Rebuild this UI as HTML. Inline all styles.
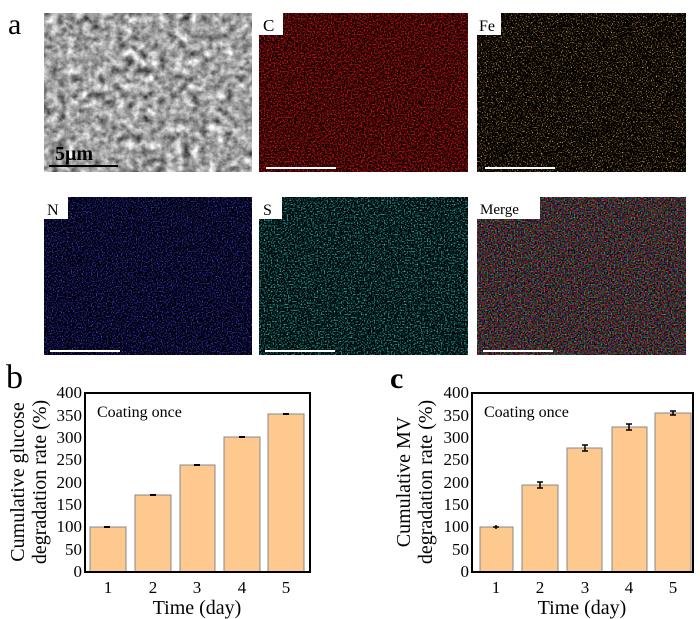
<!DOCTYPE html>
<html><head><style>body{margin:0;background:#fff}svg{display:block}text{font-family:"Liberation Serif",serif;fill:#000}</style></head><body>
<svg width="700" height="619" viewBox="0 0 700 619" xmlns="http://www.w3.org/2000/svg" font-family="Liberation Serif, serif">
<defs>
<filter id="sem" x="0" y="0" width="1" height="1" color-interpolation-filters="sRGB"><feTurbulence type="fractalNoise" baseFrequency="0.12" numOctaves="4" seed="3"/><feColorMatrix type="matrix" values="0.75 0.75 0 0 -0.12  0.75 0.75 0 0 -0.12  0.75 0.75 0 0 -0.12  0 0 0 0 1"/></filter>
<filter id="red" x="0" y="0" width="1" height="1" color-interpolation-filters="sRGB"><feTurbulence type="fractalNoise" baseFrequency="0.7" numOctaves="2" seed="5"/><feColorMatrix type="matrix" values="2.4 0 0 0 -0.95  0.2 0 0 0 -0.08  0.2 0 0 0 -0.08  0 0 0 0 1"/></filter>
<filter id="fe" x="0" y="0" width="1" height="1" color-interpolation-filters="sRGB"><feTurbulence type="fractalNoise" baseFrequency="0.8" numOctaves="1" seed="7"/><feColorMatrix type="matrix" values="3.5 0 0 0 -1.85  2.8 0 0 0 -1.5  1.2 0 0 0 -0.65  0 0 0 0 1"/></filter>
<filter id="n" x="0" y="0" width="1" height="1" color-interpolation-filters="sRGB"><feTurbulence type="fractalNoise" baseFrequency="0.8" numOctaves="1" seed="9"/><feColorMatrix type="matrix" values="1 0 0 0 -0.5  1 0 0 0 -0.5  3 0 0 0 -1.4  0 0 0 0 1"/></filter>
<filter id="s" x="0" y="0" width="1" height="1" color-interpolation-filters="sRGB"><feTurbulence type="fractalNoise" baseFrequency="0.7" numOctaves="1" seed="11"/><feColorMatrix type="matrix" values="0.6 0 0 0 -0.3  2.2 0 0 0 -1.0  2.2 0 0 0 -1.0  0 0 0 0 1"/></filter>
<filter id="m" x="0" y="0" width="1" height="1" color-interpolation-filters="sRGB"><feTurbulence type="fractalNoise" baseFrequency="0.7" numOctaves="1" seed="13"/><feColorMatrix type="matrix" values="2.6 -0.8 0 0 -0.7  -0.6 1.8 0.4 0 -0.65  0 -0.3 2.2 0 -0.8  0 0 0 0 1"/></filter>
</defs>
<text x="8" y="34" font-size="30">a</text>
<rect x="44" y="13" width="208" height="159" filter="url(#sem)"/>
<rect x="259" y="13" width="209" height="159" filter="url(#red)"/>
<rect x="477" y="13" width="209" height="159" filter="url(#fe)"/>
<rect x="44" y="197" width="208" height="158" filter="url(#n)"/>
<rect x="259" y="197" width="209" height="158" filter="url(#s)"/>
<rect x="477" y="197" width="209" height="158" filter="url(#m)"/>
<rect x="259" y="13" width="24" height="22" fill="#fff"/><text x="263" y="31" font-size="17">C</text>
<rect x="477" y="13" width="24" height="22" fill="#fff"/><text x="479" y="31" font-size="16">Fe</text>
<rect x="44" y="197" width="24" height="22" fill="#fff"/><text x="47" y="215" font-size="16">N</text>
<rect x="259" y="197" width="23" height="22" fill="#fff"/><text x="263" y="215" font-size="16">S</text>
<rect x="477" y="197" width="63" height="22" fill="#fff"/><text x="480" y="214" font-size="15">Merge</text>
<text x="55" y="160" font-size="20" font-weight="bold">5μm</text>
<line x1="49" y1="166" x2="118" y2="166" stroke="#000" stroke-width="2"/>
<g stroke="#fff" stroke-width="2"><line x1="266" y1="168" x2="336" y2="168"/><line x1="485" y1="168" x2="555" y2="168"/><line x1="50" y1="351" x2="120" y2="351"/><line x1="265" y1="351" x2="335" y2="351"/><line x1="483" y1="351" x2="553" y2="351"/></g>

<!-- b -->
<text x="6" y="388" font-size="34">b</text>
<g font-size="17" text-anchor="end">
<text x="82" y="577">0</text><text x="82" y="555">50</text><text x="82" y="532">100</text><text x="82" y="510">150</text><text x="82" y="488">200</text><text x="82" y="465">250</text><text x="82" y="443">300</text><text x="82" y="421">350</text><text x="82" y="398">400</text></g>
<g fill="#fdc98f" stroke="#888" stroke-width="1">
<rect x="90" y="527" width="36" height="45"/><rect x="135" y="495" width="36" height="77"/><rect x="180" y="465" width="35" height="107"/><rect x="224" y="437" width="36" height="135"/><rect x="268" y="414" width="36" height="158"/></g>
<g stroke="#000" stroke-width="2"><line x1="104" y1="527" x2="110" y2="527"/><line x1="150" y1="495" x2="156" y2="495"/><line x1="194" y1="465" x2="200" y2="465"/><line x1="239" y1="437" x2="245" y2="437"/><line x1="283" y1="414" x2="289" y2="414"/></g>
<rect x="85" y="393" width="225" height="179" fill="none" stroke="#000" stroke-width="2"/>
<g font-size="17" text-anchor="middle"><text x="108" y="593">1</text><text x="153" y="593">2</text><text x="197" y="593">3</text><text x="242" y="593">4</text><text x="286" y="593">5</text></g>
<text x="197" y="614" font-size="20" text-anchor="middle">Time (day)</text>
<text x="97" y="417" font-size="16">Coating once</text>
<text transform="translate(24,482) rotate(-90)" font-size="20" text-anchor="middle">Cumulative glucose</text>
<text transform="translate(46,482) rotate(-90)" font-size="20" text-anchor="middle">degradation rate (%)</text>

<!-- c -->
<text x="390" y="388" font-size="30" font-weight="bold">c</text>
<g font-size="17" text-anchor="end">
<text x="469" y="577">0</text><text x="469" y="555">50</text><text x="469" y="532">100</text><text x="469" y="510">150</text><text x="469" y="488">200</text><text x="469" y="465">250</text><text x="469" y="443">300</text><text x="469" y="421">350</text><text x="469" y="398">400</text></g>
<g fill="#fdc98f" stroke="#888" stroke-width="1">
<rect x="480" y="527" width="33" height="45"/><rect x="522" y="485" width="36" height="87"/><rect x="567" y="448" width="35" height="124"/><rect x="612" y="427" width="35" height="145"/><rect x="655" y="413" width="36" height="159"/></g>
<g stroke="#000" stroke-width="1.5"><line x1="496" y1="525" x2="496" y2="529"/><line x1="493" y1="527" x2="499" y2="527"/><path d="M537 482h6M540 482v6M537 488h6"/><path d="M582 445h6M585 445v6M582 451h6"/><path d="M626 424h6M629 424v6M626 430h6"/><path d="M670 411h6M673 411v4M670 415h6"/></g>
<rect x="472" y="393" width="221" height="179" fill="none" stroke="#000" stroke-width="2"/>
<g font-size="17" text-anchor="middle"><text x="496" y="593">1</text><text x="540" y="593">2</text><text x="585" y="593">3</text><text x="629" y="593">4</text><text x="673" y="593">5</text></g>
<text x="582" y="614" font-size="20" text-anchor="middle">Time (day)</text>
<text x="484" y="417" font-size="16">Coating once</text>
<text transform="translate(410,482) rotate(-90)" font-size="20" text-anchor="middle">Cumulative MV</text>
<text transform="translate(432,482) rotate(-90)" font-size="20" text-anchor="middle">degradation rate (%)</text>
</svg>
</body></html>
